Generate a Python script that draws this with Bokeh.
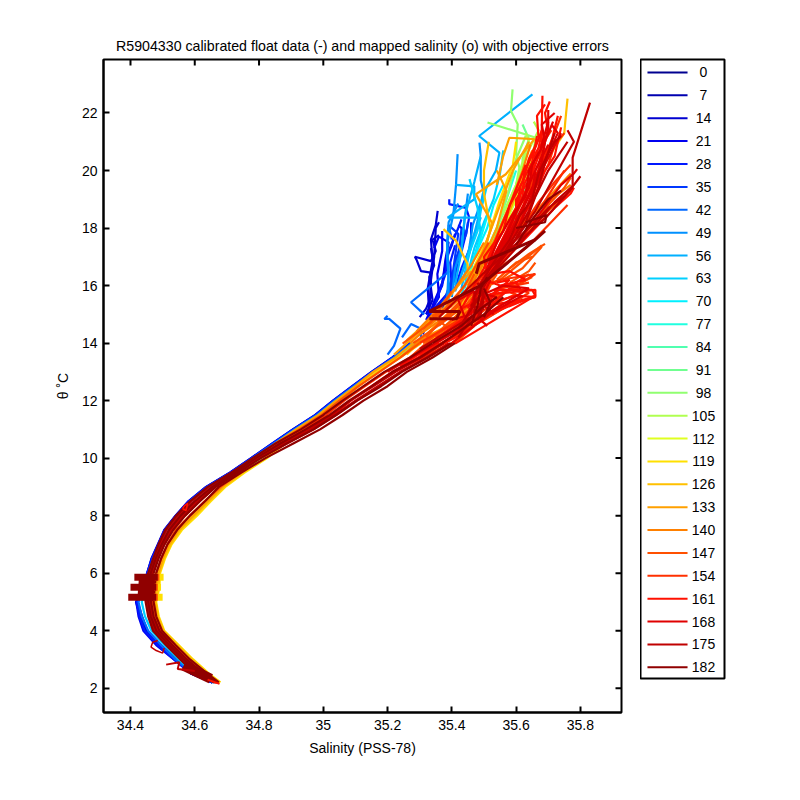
import math
from bokeh.plotting import figure
from bokeh.layouts import row
from bokeh.models import Range1d, FixedTicker
from bokeh.core.properties import value
from bokeh.embed import file_html
from bokeh.resources import INLINE

# ---------- legend ----------
legend_days = [0, 7, 14, 21, 28, 35, 42, 49, 56, 63, 70, 77, 84, 91, 98, 105, 112, 119, 126, 133, 140, 147, 154, 161, 168, 175, 182]
legend_colors = ["#000090", "#0000B0", "#0000D0", "#0000F0", "#0018FF", "#0038FF", "#0068FF", "#0090FF", "#00B0FF", "#00D0FF",
                 "#00F0FF", "#20FFE0", "#50FFB0", "#70FF90", "#90FF70", "#B0FF50", "#E0FF20", "#FFE000", "#FFC000", "#FFA000",
                 "#FF8000", "#FF5000", "#FF3000", "#FF1000", "#E00000", "#C00000", "#900000"]

x_ticks = [34.4, 34.6, 34.8, 35, 35.2, 35.4, 35.6, 35.8]
y_ticks = [2, 4, 6, 8, 10, 12, 14, 16, 18, 20, 22]

# ---------- deep trunk profiles ----------
theta_deep = [2.2, 2.5, 3, 3.5, 4, 4.5, 5, 5.5, 6, 6.5, 7, 7.5, 8, 8.5, 9, 9.5, 10, 10.5, 11, 11.5, 12, 12.5, 13, 13.5, 14]
deep_000 = [34.655, 34.595, 34.545, 34.495, 34.452, 34.436, 34.422, 34.442, 34.455, 34.47, 34.49, 34.51, 34.545, 34.585, 34.64, 34.715, 34.78, 34.845, 34.91, 34.98, 35.035, 35.095, 35.155, 35.22, 35.275]
deep_014 = [34.655, 34.59, 34.54, 34.49, 34.448, 34.43, 34.417, 34.44, 34.452, 34.465, 34.485, 34.505, 34.54, 34.58, 34.635, 34.71, 34.775, 34.84, 34.905, 34.975, 35.03, 35.09, 35.15, 35.215, 35.27]
deep_021 = [34.655, 34.59, 34.535, 34.48, 34.44, 34.425, 34.418, 34.44, 34.452, 34.466, 34.486, 34.506, 34.541, 34.581, 34.636, 34.711, 34.776, 34.841, 34.906, 34.976, 35.031, 35.091, 35.151, 35.216, 35.271]
deep_028 = [34.655, 34.59, 34.535, 34.485, 34.444, 34.428, 34.42, 34.44, 34.452, 34.467, 34.487, 34.507, 34.542, 34.582, 34.637, 34.712, 34.777, 34.842, 34.907, 34.977, 35.032, 35.092, 35.152, 35.217, 35.272]
deep_042 = [34.66, 34.595, 34.54, 34.495, 34.455, 34.435, 34.425, 34.445, 34.455, 34.47, 34.49, 34.51, 34.545, 34.585, 34.64, 34.715, 34.78, 34.845, 34.91, 34.98, 35.035, 35.095, 35.155, 35.22, 35.275]
deep_063 = [34.66, 34.60, 34.55, 34.505, 34.465, 34.445, 34.435, 34.45, 34.46, 34.475, 34.495, 34.515, 34.55, 34.59, 34.645, 34.72, 34.785, 34.85, 34.915, 34.985, 35.04, 35.10, 35.16, 35.225, 35.28]
deep_091 = [34.665, 34.62, 34.58, 34.53, 34.49, 34.47, 34.46, 34.47, 34.485, 34.50, 34.52, 34.55, 34.59, 34.635, 34.68, 34.74, 34.815, 34.86, 34.925, 34.995, 35.05, 35.105, 35.165, 35.23, 35.29]
deep_119 = [34.68, 34.645, 34.595, 34.55, 34.505, 34.488, 34.48, 34.49, 34.492, 34.507, 34.528, 34.56, 34.607, 34.65, 34.695, 34.755, 34.825, 34.88, 34.92, 34.99, 35.05, 35.105, 35.165, 35.235, 35.30]
deep_126 = [34.678, 34.642, 34.592, 34.547, 34.503, 34.486, 34.478, 34.487, 34.49, 34.504, 34.525, 34.555, 34.60, 34.645, 34.69, 34.75, 34.82, 34.87, 34.93, 34.995, 35.055, 35.11, 35.17, 35.24, 35.305]
deep_133 = [34.67, 34.63, 34.585, 34.54, 34.50, 34.482, 34.475, 34.48, 34.487, 34.50, 34.52, 34.55, 34.595, 34.64, 34.685, 34.745, 34.80, 34.85, 34.915, 34.985, 35.04, 35.10, 35.155, 35.225, 35.28]
deep_147 = [34.67, 34.625, 34.58, 34.535, 34.495, 34.475, 34.468, 34.47, 34.48, 34.495, 34.515, 34.54, 34.585, 34.63, 34.68, 34.74, 34.795, 34.85, 34.925, 34.995, 35.05, 35.11, 35.175, 35.24, 35.30]
deep_154 = [34.665, 34.62, 34.575, 34.53, 34.49, 34.47, 34.46, 34.46, 34.47, 34.485, 34.505, 34.53, 34.57, 34.615, 34.665, 34.73, 34.79, 34.86, 34.94, 35.01, 35.065, 35.13, 35.195, 35.27, 35.33]
deep_161 = [34.665, 34.615, 34.57, 34.525, 34.485, 34.465, 34.455, 34.455, 34.465, 34.48, 34.50, 34.525, 34.56, 34.61, 34.66, 34.725, 34.80, 34.875, 34.96, 35.03, 35.085, 35.15, 35.215, 35.295, 35.36]
deep_168 = [34.665, 34.61, 34.565, 34.52, 34.48, 34.46, 34.45, 34.45, 34.46, 34.475, 34.495, 34.52, 34.555, 34.60, 34.655, 34.72, 34.805, 34.885, 34.97, 35.04, 35.105, 35.175, 35.24, 35.32, 35.39]
deep_175a = [34.665, 34.605, 34.56, 34.515, 34.475, 34.458, 34.45, 34.448, 34.458, 34.473, 34.49, 34.512, 34.548, 34.59, 34.645, 34.715, 34.795, 34.865, 34.95, 35.025, 35.085, 35.155, 35.225, 35.305, 35.375]
deep_175b = [34.67, 34.62, 34.57, 34.525, 34.485, 34.468, 34.46, 34.46, 34.468, 34.482, 34.502, 34.527, 34.563, 34.608, 34.66, 34.73, 34.80, 34.875, 34.96, 35.035, 35.10, 35.17, 35.24, 35.325, 35.395]
deep_182a = [34.66, 34.60, 34.555, 34.51, 34.47, 34.455, 34.447, 34.445, 34.455, 34.47, 34.487, 34.508, 34.542, 34.585, 34.64, 34.715, 34.78, 34.85, 34.93, 35.00, 35.06, 35.125, 35.19, 35.27, 35.34]
deep_182b = [34.668, 34.615, 34.565, 34.52, 34.48, 34.463, 34.455, 34.455, 34.463, 34.478, 34.497, 34.52, 34.556, 34.60, 34.655, 34.725, 34.79, 34.865, 34.945, 35.02, 35.08, 35.15, 35.215, 35.30, 35.37]
deep_182c = [34.672, 34.628, 34.575, 34.53, 34.49, 34.472, 34.464, 34.465, 34.472, 34.487, 34.506, 34.533, 34.57, 34.616, 34.665, 34.735, 34.805, 34.885, 34.97, 35.04, 35.105, 35.18, 35.245, 35.325, 35.40]
deep_182d = [34.675, 34.64, 34.585, 34.54, 34.498, 34.48, 34.472, 34.475, 34.48, 34.495, 34.515, 34.545, 34.585, 34.632, 34.675, 34.745, 34.82, 34.905, 34.99, 35.06, 35.125, 35.20, 35.26, 35.34, 35.41]

# ---------- upper (fan) profile segments: salinity / theta ----------
u01s = [35.31, 35.33, 35.325, 35.34, 35.335, 35.35, 35.356]
u01t = [14.3, 15.0, 15.9, 16.85, 17.6, 18.1, 18.6]
u02s = [35.30, 35.32, 35.335, 35.335, 35.304, 35.29, 35.285, 35.335, 35.35, 35.34, 35.36]
u02t = [14.9, 15.2, 15.6, 16.45, 16.5, 16.9, 17.0, 16.85, 17.2, 17.6, 17.75]
u03s = [35.32, 35.37, 35.38, 35.39, 35.36, 35.345]
u03t = [14.8, 16.0, 16.9, 17.5, 17.7, 17.3]
u04s = [35.33, 35.40, 35.41, 35.43, 35.44, 35.42]
u04t = [15.0, 15.9, 16.8, 17.3, 17.9, 18.1]
u05s = [35.33, 35.39, 35.423, 35.444, 35.454, 35.444, 35.392, 35.392]
u05t = [15.0, 15.7, 16.86, 17.8, 18.37, 18.7, 18.83, 19.0]
u06s = [35.34, 35.41, 35.43, 35.46, 35.46]
u06t = [14.9, 15.9, 16.6, 17.4, 18.2]
u07s = [35.37, 35.40, 35.41, 35.42, 35.39, 35.40]
u07t = [15.2, 16.2, 17.0, 17.8, 18.1, 17.6]
u08s = [35.33, 35.355, 35.34, 35.32]
u08t = [14.9, 15.1, 15.2, 15.0]
u09s = [35.20, 35.22, 35.24, 35.205, 35.19, 35.20]
u09t = [13.6, 13.9, 14.5, 14.84, 14.84, 14.95]
u10s = [35.245, 35.273, 35.304, 35.304]
u10t = [14.2, 14.66, 14.5, 14.1]
u11s = [35.314, 35.273, 35.33, 35.392]
u11t = [15.0, 15.42, 15.94, 16.5]
u12s = [35.39, 35.39, 35.385, 35.387, 35.405, 35.413, 35.418]
u12t = [15.3, 16.3, 17.0, 17.56, 18.5, 19.5, 20.57]
u13s = [35.41, 35.45, 35.465, 35.50, 35.49, 35.49, 35.486]
u13t = [15.8, 17.0, 18.1, 19.2, 19.65, 20.5, 20.97]
u14s = [35.43, 35.444, 35.48, 35.496, 35.537, 35.548, 35.485, 35.651]
u14t = [15.9, 16.63, 18.25, 19.18, 19.99, 20.62, 21.2, 22.65]
u15s = [35.42, 35.46, 35.49, 35.387, 35.43, 35.47, 35.47, 35.413]
u15t = [16.0, 17.5, 18.36, 18.36, 18.7, 19.0, 19.45, 19.5]
u16s = [35.44, 35.47, 35.50, 35.53, 35.55, 35.56]
u16t = [16.0, 17.3, 18.2, 19.0, 19.9, 20.7]
u17s = [35.43, 35.46, 35.49, 35.48, 35.46, 35.455]
u17t = [15.7, 16.6, 17.8, 18.7, 19.5, 19.7]
u18s = [35.44, 35.47, 35.51, 35.53, 35.56]
u18t = [15.9, 17.0, 18.0, 18.8, 19.5]
u19s = [35.46, 35.50, 35.54, 35.57, 35.60]
u19t = [16.0, 17.0, 18.0, 19.0, 20.0]
u20s = [35.47, 35.52, 35.56, 35.60, 35.63]
u20t = [16.0, 17.0, 18.0, 19.0, 20.0]
u21s = [35.50, 35.55, 35.60, 35.63, 35.62, 35.64, 35.62]
u21t = [16.2, 17.3, 18.4, 19.5, 20.4, 21.1, 21.6]
u22s = [35.444, 35.496, 35.568, 35.641, 35.662, 35.511]
u22t = [16.4, 16.86, 18.48, 19.87, 21.14, 21.67]
u23s = [35.50, 35.56, 35.60, 35.61, 35.60, 35.605, 35.584, 35.589]
u23t = [17.0, 18.5, 19.5, 20.1, 20.57, 21.61, 22.07, 22.82]
u24s = [35.55, 35.60, 35.64, 35.66, 35.666]
u24t = [18.0, 19.0, 20.0, 21.0, 21.3]
u25s = [35.60, 35.63, 35.67, 35.655]
u25t = [19.5, 20.5, 21.4, 21.7]
u26s = [35.46, 35.53, 35.58, 35.62, 35.65]
u26t = [16.0, 17.3, 18.5, 19.5, 20.5]
u27s = [35.45, 35.51, 35.55, 35.59, 35.60]
u27t = [16.2, 17.6, 19.0, 20.2, 21.0]
u28s = [35.45, 35.449, 35.413, 35.374]
u28t = [16.4, 16.75, 17.56, 17.96]
u29s = [35.46, 35.56, 35.65, 35.75, 35.753, 35.76]
u29t = [16.4, 18.0, 19.6, 21.3, 21.7, 22.5]
u30s = [35.46, 35.527, 35.475, 35.568, 35.657, 35.579, 35.56, 35.54]
u30t = [15.9, 18.14, 19.18, 19.87, 21.09, 21.14, 20.5, 19.5]
u31s = [35.45, 35.52, 35.58, 35.62, 35.65]
u31t = [16.0, 17.3, 18.6, 19.8, 20.7]
u32s = [35.50, 35.62, 35.72, 35.77]
u32t = [16.4, 18.1, 19.3, 19.9]
u33s = [35.47, 35.57, 35.66, 35.77]
u33t = [16.0, 17.5, 18.6, 19.5]
u34s = [35.50, 35.60, 35.70, 35.77]
u34t = [15.9, 17.4, 18.6, 19.3]
u35s = [35.45, 35.55, 35.68]
u35t = [15.6, 16.2, 17.4]
u36s = [35.42, 35.55, 35.65]
u36t = [15.2, 15.7, 16.3]
u37s = [35.44, 35.52, 35.60, 35.67, 35.72, 35.74]
u37t = [15.4, 16.8, 18.5, 20.0, 21.3, 21.9]
u38s = [35.45, 35.55, 35.63, 35.68, 35.68, 35.682]
u38t = [15.2, 17.4, 19.3, 20.8, 21.6, 22.6]
u39s = [35.48, 35.58, 35.66, 35.71, 35.73]
u39t = [15.7, 17.8, 19.6, 21.0, 21.9]
u40s = [35.44, 35.56, 35.62, 35.68, 35.70, 35.70]
u40t = [14.8, 17.6, 19.0, 20.5, 21.5, 22.1]
u41s = [35.50, 35.60, 35.68, 35.74]
u41t = [16.4, 18.2, 20.0, 21.3]
u42s = [35.47, 35.60, 35.65, 35.70]
u42t = [15.6, 18.0, 19.5, 20.8]
u43s = [35.42, 35.50, 35.57, 35.63]
u43t = [15.0, 16.6, 18.5, 20.2]
u44s = [35.24, 35.45, 35.66, 35.65, 35.55, 35.43]
u44t = [13.2, 14.7, 15.65, 15.85, 15.85, 15.2]
u45s = [35.30, 35.50, 35.64, 35.60, 35.50]
u45t = [13.6, 14.8, 15.75, 15.9, 15.6]
u46s = [35.20, 35.35, 35.50, 35.64, 35.56, 35.48]
u46t = [13.0, 14.0, 14.95, 15.9, 16.0, 15.6]
u47s = [35.30, 35.50, 35.66, 35.55, 35.50]
u47t = [14.0, 15.3, 16.4, 16.2, 16.0]
u48s = [35.33, 35.48, 35.58, 35.54]
u48t = [14.0, 15.2, 16.2, 16.1]
u49s = [35.22, 35.40, 35.47, 35.41]
u49t = [13.0, 14.0, 14.6, 14.0]
u50s = [35.83, 35.776, 35.776, 35.693, 35.496, 35.36]
u50t = [22.36, 20.45, 19.41, 18.37, 16.4, 14.9]
u51s = [35.33, 35.486, 35.66, 35.69]
u51t = [15.1, 15.98, 17.6, 17.9]
u52s = [35.33, 35.425, 35.415, 35.33]
u52t = [15.1, 15.1, 14.85, 14.85]
u53s = [35.476, 35.485, 35.66]
u53t = [16.41, 16.76, 17.6]
u54s = [35.30, 35.50, 35.46, 35.50, 35.48]
u54t = [13.8, 15.2, 15.3, 15.8, 14.8]
u55s = [35.42, 35.48, 35.51, 35.60, 35.72, 35.78, 35.80]
u55t = [14.5, 15.5, 16.2, 17.3, 18.9, 19.5, 19.8]
u56s = [35.50, 35.66, 35.74, 35.78, 35.76]
u56t = [16.0, 18.6, 20.2, 21.0, 21.4]
u57s = [35.40, 35.46, 35.47, 35.42, 35.44]
u57t = [14.8, 15.0, 15.8, 15.5, 14.9]
u58s = [35.60, 35.69, 35.695, 35.63]
u58t = [18.0, 18.2, 18.45, 18.2]
u60s = [35.24, 35.34, 35.44]
u60t = [13.5, 14.5, 15.6]
u61s = [35.25, 35.38, 35.48]
u61t = [13.3, 14.6, 15.6]
u62s = [35.22, 35.31, 35.42]
u62t = [13.6, 14.5, 15.7]
u63s = [35.26, 35.35, 35.44]
u63t = [13.6, 14.6, 15.3]
u64s = [35.29, 35.40, 35.45]
u64t = [13.6, 14.7, 15.6]
u65s = [35.29, 35.42, 35.50]
u65t = [13.4, 14.3, 15.0]
u66s = [35.247, 35.335, 35.40]
u66t = [13.98, 14.72, 15.8]

# jagged red bundle
r01s = [35.47, 35.51, 35.50, 35.56, 35.58, 35.62, 35.64, 35.67, 35.665, 35.69]
r01t = [15.6, 16.4, 17.0, 17.9, 18.8, 19.6, 20.4, 21.1, 21.9, 22.3]
r02s = [35.49, 35.53, 35.55, 35.60, 35.60, 35.65, 35.66, 35.70, 35.69, 35.705]
r02t = [15.6, 16.6, 17.4, 18.2, 19.0, 19.8, 20.6, 21.3, 22.0, 22.4]
r03s = [35.50, 35.54, 35.57, 35.62, 35.63, 35.67, 35.68, 35.71]
r03t = [15.9, 16.9, 17.6, 18.4, 19.3, 20.0, 20.9, 21.4]
r04s = [35.46, 35.50, 35.54, 35.58, 35.60, 35.64, 35.65, 35.69, 35.68, 35.72]
r04t = [15.3, 16.2, 17.2, 18.0, 18.6, 19.4, 20.2, 21.0, 21.6, 22.0]
r05s = [35.52, 35.55, 35.61, 35.64, 35.68, 35.70, 35.73, 35.71]
r05t = [16.3, 17.0, 18.0, 18.9, 19.9, 20.6, 21.3, 21.6]
r06s = [35.48, 35.53, 35.57, 35.59, 35.62, 35.625, 35.66, 35.68]
r06t = [15.9, 17.0, 17.9, 18.4, 19.1, 19.9, 20.8, 21.4]
r07s = [35.49, 35.55, 35.60, 35.64, 35.66, 35.70, 35.72, 35.75]
r07t = [16.0, 16.9, 17.9, 18.5, 19.4, 20.2, 20.9, 21.3]
r08s = [35.47, 35.53, 35.58, 35.61, 35.65, 35.67, 35.70, 35.72, 35.74]
r08t = [15.7, 16.8, 17.6, 18.4, 19.0, 19.9, 20.6, 21.0, 21.2]
r09s = [35.51, 35.58, 35.63, 35.66, 35.70, 35.76]
r09t = [16.3, 17.3, 18.2, 19.1, 20.0, 21.0]
r10s = [35.54, 35.62, 35.66, 35.70, 35.74, 35.78, 35.79]
r10t = [16.7, 17.7, 18.3, 18.9, 19.5, 19.9, 20.05]
r11s = [35.60, 35.66, 35.72, 35.77, 35.78]
r11t = [17.3, 18.0, 18.7, 19.2, 19.4]
r12s = [35.56, 35.63, 35.70, 35.76]
r12t = [16.7, 17.3, 18.1, 18.8]
r13s = [35.58, 35.64, 35.69]
r13t = [16.6, 17.1, 17.45]
r14s = [35.56, 35.62, 35.68]
r14t = [16.2, 16.6, 17.35]
r15s = [35.58, 35.64, 35.66]
r15t = [16.1, 16.5, 16.8]
r16s = [35.53, 35.60, 35.64]
r16t = [15.8, 16.1, 16.4]
r17s = [35.46, 35.52, 35.66, 35.66, 35.60, 35.50]
r17t = [15.5, 15.7, 15.85, 15.6, 15.45, 15.3]
r18s = [35.50, 35.60, 35.66, 35.60, 35.52]
r18t = [15.0, 15.4, 15.6, 15.65, 15.4]
r19s = [35.48, 35.56, 35.62, 35.55, 35.64]
r19t = [14.7, 15.2, 15.6, 15.9, 16.1]
r20s = [35.50, 35.55, 35.63, 35.58, 35.52]
r20t = [16.2, 16.0, 16.2, 16.5, 16.4]
r21s = [35.48, 35.50, 35.54, 35.50, 35.53]
r21t = [15.1, 15.7, 15.6, 15.3, 15.0]
r22s = [35.41, 35.48, 35.54, 35.66]
r22t = [13.98, 14.45, 14.85, 15.65]
r23s = [35.40, 35.47, 35.53, 35.62]
r23t = [14.0, 14.6, 15.1, 15.65]
r24s = [35.39, 35.46, 35.52, 35.60]
r24t = [14.1, 14.8, 15.3, 15.7]
r25s = [35.37, 35.44, 35.49, 35.50, 35.48]
r25t = [14.0, 14.5, 15.0, 15.6, 16.1]
r26s = [35.46, 35.48, 35.49, 35.51]
r26t = [14.6, 15.3, 15.9, 16.3]
r27s = [35.50, 35.52, 35.50]
r27t = [14.9, 15.4, 15.9]
r28s = [35.42, 35.47, 35.47, 35.49]
r28t = [14.2, 15.0, 15.6, 16.1]
r29s = [35.34, 35.43, 35.49, 35.54]
r29t = [14.0, 14.6, 15.2, 15.6]
r30s = [35.37, 35.50, 35.56]
r30t = [14.0, 15.0, 15.6]
x01s = [35.50, 35.55, 35.60, 35.615, 35.65, 35.665]
x01t = [16.6, 17.7, 18.7, 19.5, 20.3, 21.2]
x02s = [35.51, 35.54, 35.585, 35.63, 35.64, 35.675, 35.70]
x02t = [16.6, 17.5, 18.4, 19.1, 20.0, 20.7, 21.7]
x03s = [35.53, 35.57, 35.61, 35.65, 35.66, 35.70]
x03t = [16.9, 17.5, 18.1, 19.2, 20.0, 20.9]
x04s = [35.52, 35.58, 35.62, 35.65, 35.69, 35.72, 35.74]
x04t = [16.4, 17.4, 18.4, 18.9, 20.0, 20.5, 21.5]
x05s = [35.53, 35.58, 35.63, 35.67, 35.71, 35.75]
x05t = [16.5, 17.1, 17.9, 18.6, 19.3, 20.0]
x06s = [35.55, 35.60, 35.64, 35.67, 35.69, 35.72]
x06t = [16.9, 17.8, 18.6, 19.4, 20.3, 21.3]
x07s = [35.53, 35.59, 35.65, 35.70, 35.75]
x07t = [16.5, 17.5, 18.1, 18.7, 19.1]
x08s = [35.54, 35.59, 35.62, 35.65, 35.67, 35.68]
x08t = [17.0, 18.2, 19.4, 20.1, 20.8, 21.3]
x09s = [35.56, 35.60, 35.65, 35.68, 35.69, 35.715]
x09t = [17.3, 18.3, 19.4, 20.3, 21.0, 21.7]
x10s = [35.60, 35.65, 35.70, 35.74]
x10t = [17.4, 18.3, 19.0, 19.3]
x11s = [35.60, 35.67, 35.72, 35.77]
x11t = [17.7, 18.9, 19.6, 20.2]
x12s = [35.63, 35.70, 35.75, 35.77]
x12t = [17.9, 18.8, 19.4, 19.75]
z01s = [35.53, 35.58, 35.62, 35.60, 35.56]
z01t = [15.4, 15.9, 15.75, 16.1, 16.0]
z02s = [35.52, 35.50, 35.52, 35.49, 35.51]
z02t = [16.2, 15.7, 15.2, 14.8, 14.6]
z03s = [35.54, 35.60, 35.65]
z03t = [16.2, 16.8, 17.0]

# orange wedge and extra mid-season lines
o01s = [35.27, 35.36, 35.42, 35.47, 35.52]
o01t = [14.0, 14.9, 15.5, 16.2, 17.2]
o02s = [35.28, 35.37, 35.45, 35.50, 35.53]
o02t = [14.0, 14.7, 15.4, 16.1, 17.0]
o03s = [35.26, 35.33, 35.40, 35.46, 35.50]
o03t = [14.1, 14.8, 15.4, 16.3, 17.2]
o04s = [35.29, 35.39, 35.47, 35.51]
o04t = [14.0, 14.6, 15.3, 16.2]
o05s = [35.31, 35.41, 35.48, 35.54]
o05t = [14.0, 14.7, 15.4, 16.4]
o06s = [35.28, 35.37, 35.44, 35.49]
o06t = [14.0, 14.5, 15.1, 15.8]
o07s = [35.33, 35.42, 35.47]
o07t = [14.0, 14.5, 14.9]
o08s = [35.30, 35.39, 35.43]
o08t = [14.3, 15.0, 15.4]
o09s = [35.33, 35.40, 35.45]
o09t = [14.4, 15.0, 15.6]
o10s = [35.35, 35.38, 35.34, 35.40]
o10t = [14.2, 14.6, 14.95, 15.3]
o11s = [35.45, 35.49, 35.53, 35.56, 35.59, 35.64]
o11t = [16.0, 17.0, 18.2, 19.1, 20.0, 21.0]
o12s = [35.48, 35.53, 35.58, 35.62, 35.645]
o12t = [16.5, 17.5, 18.8, 20.0, 20.9]
o13s = [35.46, 35.50, 35.52, 35.50, 35.50, 35.515]
o13t = [16.0, 17.0, 18.0, 19.2, 20.0, 21.0]
o14s = [35.48, 35.50, 35.54, 35.57, 35.54]
o14t = [16.0, 17.0, 18.0, 19.3, 20.0]
w01s = [35.29, 35.35, 35.41, 35.46, 35.50]
w01t = [14.4, 15.1, 15.9, 16.7, 17.5]
w02s = [35.31, 35.38, 35.44, 35.48, 35.515]
w02t = [14.5, 15.2, 16.0, 16.8, 17.5]
w03s = [35.33, 35.37, 35.42, 35.46]
w03t = [14.7, 15.3, 16.0, 16.5]
w04s = [35.36, 35.42, 35.46, 35.49]
w04t = [14.6, 15.3, 15.9, 16.3]
w05s = [35.38, 35.44, 35.48]
w05t = [14.5, 15.2, 15.8]
w06s = [35.35, 35.41, 35.45, 35.47]
w06t = [14.3, 14.9, 15.4, 16.0]
w07s = [35.32, 35.37, 35.43, 35.47]
w07t = [14.2, 14.8, 15.5, 16.4]
w08s = [35.34, 35.40, 35.45, 35.48]
w08t = [14.0, 14.5, 15.0, 15.5]
w09s = [35.38, 35.44, 35.49, 35.52]
w09t = [14.2, 14.8, 15.4, 16.0]
w10s = [35.36, 35.43, 35.49, 35.53]
w10t = [13.9, 14.3, 14.8, 15.4]
w11s = [35.40, 35.47, 35.52, 35.55]
w11t = [14.3, 14.9, 15.5, 16.0]
w12s = [35.44, 35.50, 35.56]
w12t = [14.4, 14.9, 15.4]
g01s = [35.56, 35.60, 35.62, 35.64, 35.63]
g01t = [18.5, 19.5, 20.3, 21.0, 21.3]
g02s = [35.54, 35.575, 35.60, 35.63]
g02t = [18.0, 19.2, 20.4, 21.2]
b01s = [35.33, 35.335, 35.345, 35.35, 35.36]
b01t = [15.2, 16.2, 17.0, 18.0, 18.2]
b02s = [35.34, 35.37, 35.385, 35.40, 35.41]
b02t = [15.3, 16.1, 17.0, 17.4, 17.8]
b03s = [35.35, 35.38, 35.39, 35.42, 35.43]
b03t = [15.4, 16.4, 17.2, 18.0, 18.3]
b04s = [35.38, 35.405, 35.425, 35.43]
b04t = [15.6, 16.4, 17.4, 18.0]
b05s = [35.32, 35.34, 35.33, 35.345, 35.335]
b05t = [15.0, 15.5, 16.3, 16.7, 17.3]
b06s = [35.33, 35.36, 35.355, 35.37, 35.37]
b06t = [15.0, 15.6, 16.4, 17.2, 17.9]
b07s = [35.36, 35.40, 35.395, 35.41]
b07t = [15.2, 15.9, 16.8, 17.4]
b08s = [35.37, 35.41, 35.415, 35.445, 35.45]
b08t = [15.4, 16.2, 17.0, 17.8, 18.2]
b09s = [35.40, 35.41, 35.43, 35.44, 35.45]
b09t = [15.6, 16.6, 17.3, 18.3, 19.2]
c01s = [35.385, 35.39, 35.385, 35.39, 35.42]
c01t = [15.5, 16.5, 17.5, 18.2, 18.85]
c02s = [35.41, 35.43, 35.44, 35.47, 35.49]
c02t = [16.0, 17.2, 18.4, 19.6, 20.5]
c03s = [35.44, 35.45, 35.48, 35.49, 35.51]
c03t = [16.2, 17.0, 17.9, 18.6, 19.5]
c04s = [35.45, 35.48, 35.51]
c04t = [16.4, 17.3, 18.4]

# ---------- small excursions and mapped-value error bars ----------
exc1s = [34.485, 34.469, 34.464, 34.48, 34.50, 34.505]
exc1t = [3.66, 3.6, 3.43, 3.31, 3.22, 3.4]
exc2s = [34.562, 34.568, 34.578, 34.573, 34.562]
exc2t = [8.24, 8.35, 8.43, 8.18, 8.24]
exc3s = [34.511, 34.552, 34.547, 34.60]
exc3t = [2.82, 2.9, 2.67, 2.6]
err_sal_low = [34.393, 34.40, 34.412]
err_sal_high = [34.485, 34.485, 34.49]
err_sal_end = [34.50, 34.495, 34.503]
err_theta = [5.16, 5.51, 5.86]
core_s = [34.446, 34.452]
core_t = [5.05, 5.95]
blob_s = [34.565, 34.65]
blob_t = [2.78, 2.33]
tail_s = [34.64, 34.677]
tail_t = [2.3, 2.15]

deep_lines = [(0, deep_000), (14, deep_014), (21, deep_021), (28, deep_028), (42, deep_042), (63, deep_063), (91, deep_091),
              (119, deep_119), (126, deep_126), (133, deep_133), (147, deep_147), (154, deep_154), (161, deep_161),
              (168, deep_168), (175, deep_175a), (175, deep_175b), (182, deep_182a), (182, deep_182b), (182, deep_182c),
              (182, deep_182d)]
upper_lines = [(14, u01s, u01t), (14, u02s, u02t), (21, u03s, u03t), (21, u04s, u04t), (28, u05s, u05t), (28, u06s, u06t),
               (35, u07s, u07t), (21, u08s, u08t), (42, u09s, u09t), (42, u10s, u10t), (42, u11s, u11t), (49, u12s, u12t),
               (49, u13s, u13t), (56, u14s, u14t), (56, u15s, u15t), (63, u16s, u16t), (63, u17s, u17t), (70, u18s, u18t),
               (77, u19s, u19t), (84, u20s, u20t), (91, u21s, u21t), (98, u22s, u22t), (98, u23s, u23t), (105, u24s, u24t),
               (105, u25s, u25t), (112, u26s, u26t), (119, u27s, u27t), (126, u28s, u28t), (126, u29s, u29t), (133, u30s, u30t),
               (133, u31s, u31t), (140, u32s, u32t), (140, u33s, u33t), (147, u34s, u34t), (147, u35s, u35t), (147, u36s, u36t),
               (154, u37s, u37t), (161, u38s, u38t), (161, u39s, u39t), (168, u40s, u40t), (168, u41s, u41t), (154, u42s, u42t),
               (161, u43s, u43t), (161, u44s, u44t), (154, u45s, u45t), (168, u46s, u46t), (154, u47s, u47t), (161, u48s, u48t),
               (147, u49s, u49t), (175, u50s, u50t), (175, u54s, u54t),
               (175, u55s, u55t), (175, u56s, u56t), (168, u57s, u57t), (182, u58s, u58t), (140, u60s, u60t), (147, u61s, u61t),
               (133, u62s, u62t), (126, u63s, u63t), (119, u64s, u64t), (140, u65s, u65t), (147, u66s, u66t),
               (161, r01s, r01t), (161, r02s, r02t), (154, r03s, r03t), (168, r04s, r04t), (168, r05s, r05t), (161, r06s, r06t),
               (154, r07s, r07t), (175, r08s, r08t), (175, r09s, r09t), (168, r10s, r10t), (161, r11s, r11t), (154, r12s, r12t),
               (147, r13s, r13t), (147, r14s, r14t), (147, r15s, r15t), (154, r16s, r16t), (161, r17s, r17t), (161, r18s, r18t),
               (154, r19s, r19t), (161, r20s, r20t), (168, r21s, r21t), (161, r22s, r22t), (168, r23s, r23t), (154, r24s, r24t),
               (175, r25s, r25t), (182, r26s, r26t), (182, r27s, r27t), (175, r28s, r28t), (182, r29s, r29t), (182, r30s, r30t),
               (161, x01s, x01t), (168, x02s, x02t), (168, x03s, x03t), (161, x04s, x04t), (154, x05s, x05t), (175, x06s, x06t),
               (175, x07s, x07t), (161, x08s, x08t), (168, x09s, x09t), (182, x10s, x10t), (154, x11s, x11t), (147, x12s, x12t),
               (161, z01s, z01t), (168, z02s, z02t), (147, z03s, z03t),
               (140, o01s, o01t), (147, o02s, o02t), (133, o03s, o03t), (140, o04s, o04t), (147, o05s, o05t), (133, o06s, o06t),
               (147, o07s, o07t), (140, o08s, o08t), (126, o09s, o09t), (147, o10s, o10t), (133, o11s, o11t), (140, o12s, o12t),
               (126, o13s, o13t), (133, o14s, o14t),
               (140, w01s, w01t), (147, w02s, w02t), (133, w03s, w03t), (147, w04s, w04t), (140, w05s, w05t), (133, w06s, w06t),
               (147, w07s, w07t), (154, w08s, w08t), (154, w09s, w09t), (161, w10s, w10t), (161, w11s, w11t), (154, w12s, w12t),
               (105, g01s, g01t), (98, g02s, g02t), (14, b01s, b01t), (21, b02s, b02t),
               (28, b03s, b03t), (35, b04s, b04t), (14, b05s, b05t), (21, b06s, b06t), (28, b07s, b07t), (35, b08s, b08t),
               (49, b09s, b09t), (49, c01s, c01t), (56, c02s, c02t), (63, c03s, c03t), (70, c04s, c04t)]
thick_lines = [(182, u51s, u51t), (182, u52s, u52t), (182, u53s, u53t)]

color_of = dict(zip(legend_days, legend_colors))
FONT = "Liberation Sans"
X_MIN, X_MAX = 34.316, 35.928
Y_MIN, Y_MAX = 1.155, 23.86

p = figure(width=640, height=760, output_backend="svg", toolbar_location=None,
           x_range=Range1d(X_MIN, X_MAX), y_range=Range1d(Y_MIN, Y_MAX),
           frame_width=518, frame_height=653,
           min_border_left=103, min_border_right=19, min_border_top=59, min_border_bottom=48,
           x_axis_label="Salinity (PSS-78)", y_axis_label="\u03b8 \u02daC",
           title="R5904330 calibrated float data (-) and mapped salinity (o) with objective errors")

p.title.align = "center"
p.title.text_font = FONT
p.title.text_font_size = "14.2px"
p.title.text_font_style = "normal"
p.title.text_color = "#000000"
p.title.standoff = 11
p.grid.visible = False
p.outline_line_color = "#000000"
p.outline_line_width = 2
p.background_fill_color = "#ffffff"

# draw in time order so the later (redder) profiles sit on top
merged = [(d, s, theta_deep) for d, s in deep_lines] + list(upper_lines)
for day, sal, theta in sorted(merged, key=lambda r: r[0]):
    p.line(sal, theta, line_color=color_of[day], line_width=2.2)
for day, sal, theta in thick_lines:
    p.line(sal, theta, line_color=color_of[day], line_width=3)

# mapped salinity lumps
for t, lo, hi, end in zip(err_theta, err_sal_low, err_sal_high, err_sal_end):
    p.line([hi - 0.01, end], [t, t], line_color=color_of[119], line_width=7)
    p.line([hi - 0.02, hi], [t, t], line_color=color_of[147], line_width=7)
    p.line([lo, hi - 0.005], [t, t], line_color=color_of[182], line_width=7)
p.line(core_s, core_t, line_color=color_of[182], line_width=16)
p.line(blob_s, blob_t, line_color=color_of[182], line_width=10)
p.line(tail_s, tail_t, line_color=color_of[161], line_width=2)
p.line(exc1s, exc1t, line_color=color_of[175], line_width=1.5)
p.line(exc2s, exc2t, line_color=color_of[161], line_width=1.5)
p.line(exc3s, exc3t, line_color=color_of[175], line_width=2)

for ax, ticks in ((p.xaxis[0], x_ticks), (p.yaxis[0], y_ticks)):
    ax.ticker = FixedTicker(ticks=ticks)
    ax.major_tick_in = 6
    ax.major_tick_out = 0
    ax.minor_tick_in = 0
    ax.minor_tick_out = 0
    ax.major_tick_line_color = "#000000"
    ax.major_tick_line_width = 2
    ax.axis_line_color = "#000000"
    ax.axis_line_width = 2
    ax.major_label_text_font = FONT
    ax.major_label_text_font_size = "14px"
    ax.major_label_text_color = "#000000"
    ax.axis_label_text_font = FONT
    ax.axis_label_text_font_size = "14px"
    ax.axis_label_text_font_style = "normal"
    ax.axis_label_text_color = "#000000"
p.xaxis[0].major_label_overrides = {35: "35"}
p.xaxis[0].major_label_standoff = 7
p.xaxis[0].axis_label_standoff = 7
p.yaxis[0].major_label_standoff = 6
p.yaxis[0].axis_label_standoff = 8

# ticks mirrored on the top and right edges (half of each dash is clipped by the frame)
p.scatter(x_ticks, [Y_MAX] * len(x_ticks), marker="dash", size=12, angle=math.pi / 2,
          line_color="#000000", line_width=2)
p.scatter([X_MAX] * len(y_ticks), y_ticks, marker="dash", size=12,
          line_color="#000000", line_width=2)

# legend panel
lg = figure(width=92, height=760, output_backend="svg", toolbar_location=None,
            x_range=Range1d(0, 1), y_range=Range1d(26.49, -0.568),
            frame_width=84, frame_height=619,
            min_border_left=0, min_border_right=8, min_border_top=59, min_border_bottom=82)
lg.axis.visible = False
lg.grid.visible = False
lg.outline_line_color = "#000000"
lg.outline_line_width = 2
for i, (day, color) in enumerate(zip(legend_days, legend_colors)):
    lg.line([0.083, 0.56], [i, i], line_color=color, line_width=2)
lg.text([0.75] * len(legend_days), list(range(len(legend_days))), text=[str(d) for d in legend_days],
        text_font=value(FONT), text_font_size="14px", text_align="center", text_baseline="middle", text_color="#000000")

open("out.html", "w").write(file_html(row(p, lg, spacing=0), INLINE))
